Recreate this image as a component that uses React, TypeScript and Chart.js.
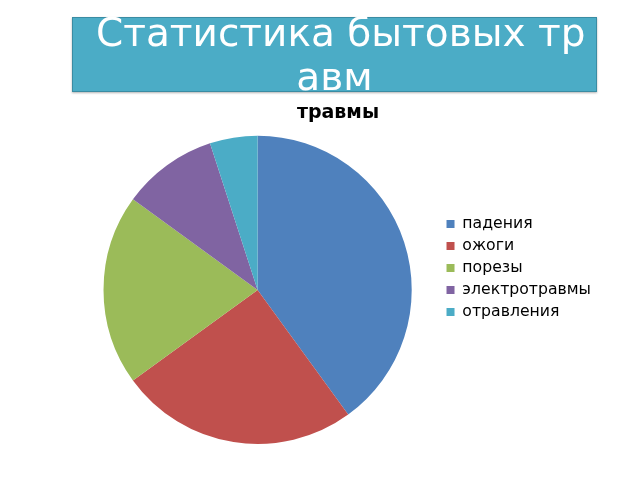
import React, { useEffect, useRef } from 'react';
import { Chart, registerables } from 'chart.js';

Chart.register(...registerables);

const headerText = [' Статистика бытовых тр', 'авм'];
const chartTitle = 'травмы';
const categories = ['падения', 'ожоги', 'порезы', 'электротравмы', 'отравления'];
const values = [40, 25, 20, 10, 5];
const colors = ['#4f81bd', '#c0504d', '#9bbb59', '#8064a2', '#4bacc6'];

const PieChart: React.FC = () => {
  const canvasRef = useRef<HTMLCanvasElement | null>(null);
  const chartRef = useRef<Chart | null>(null);

  useEffect(() => {
    if (!canvasRef.current) return;
    const ctx = canvasRef.current.getContext('2d');
    if (!ctx) return;

    if (chartRef.current) chartRef.current.destroy();

    chartRef.current = new Chart(ctx, {
      type: 'pie',
      data: {
        labels: categories,
        datasets: [
          {
            data: values,
            backgroundColor: colors,
            borderWidth: 0,
          },
        ],
      },
      options: {
        animation: false,
        responsive: false,
        layout: { padding: { top: 92, bottom: 36, left: 75, right: 39 } },
        plugins: {
          title: {
            display: true,
            text: chartTitle,
            color: '#000',
            font: { family: 'DejaVu Sans', size: 19, weight: 'bold' },
            padding: { top: 10, bottom: 11 },
          },
          legend: {
            position: 'right',
            labels: {
              boxWidth: 8,
              boxHeight: 8,
              padding: 6.3,
              color: '#000',
              font: { family: 'DejaVu Sans', size: 15.7 },
            },
          },
          tooltip: { enabled: false },
        },
      },
    });

    return () => {
      if (chartRef.current) {
        chartRef.current.destroy();
        chartRef.current = null;
      }
    };
  }, []);

  return (
    <canvas
      ref={canvasRef}
      width={640}
      height={480}
      style={{ position: 'absolute', left: 0, top: 0, width: 640, height: 480 }}
    />
  );
};

export default function App() {
  return (
    <div style={{ position: 'absolute', left: 0, top: 0, width: 640, height: 480, background: '#fff' }}>
      <PieChart />
      <div
        style={{
          position: 'absolute',
          left: 72,
          top: 17,
          width: 523,
          height: 73,
          background: '#4bacc6',
          border: '1px solid #3a8ca3',
          boxShadow: '0 1px 2px rgba(0,0,0,0.3)',
        }}
      />
      <div
        style={{
          position: 'absolute',
          left: 72,
          top: 11,
          width: 525,
          textAlign: 'center',
          color: '#fff',
          fontFamily: 'DejaVu Sans',
          fontSize: 39,
          lineHeight: '44px',
          whiteSpace: 'pre',
        }}
      >
        {headerText[0]}
        <br />
        {headerText[1]}
      </div>
    </div>
  );
}
